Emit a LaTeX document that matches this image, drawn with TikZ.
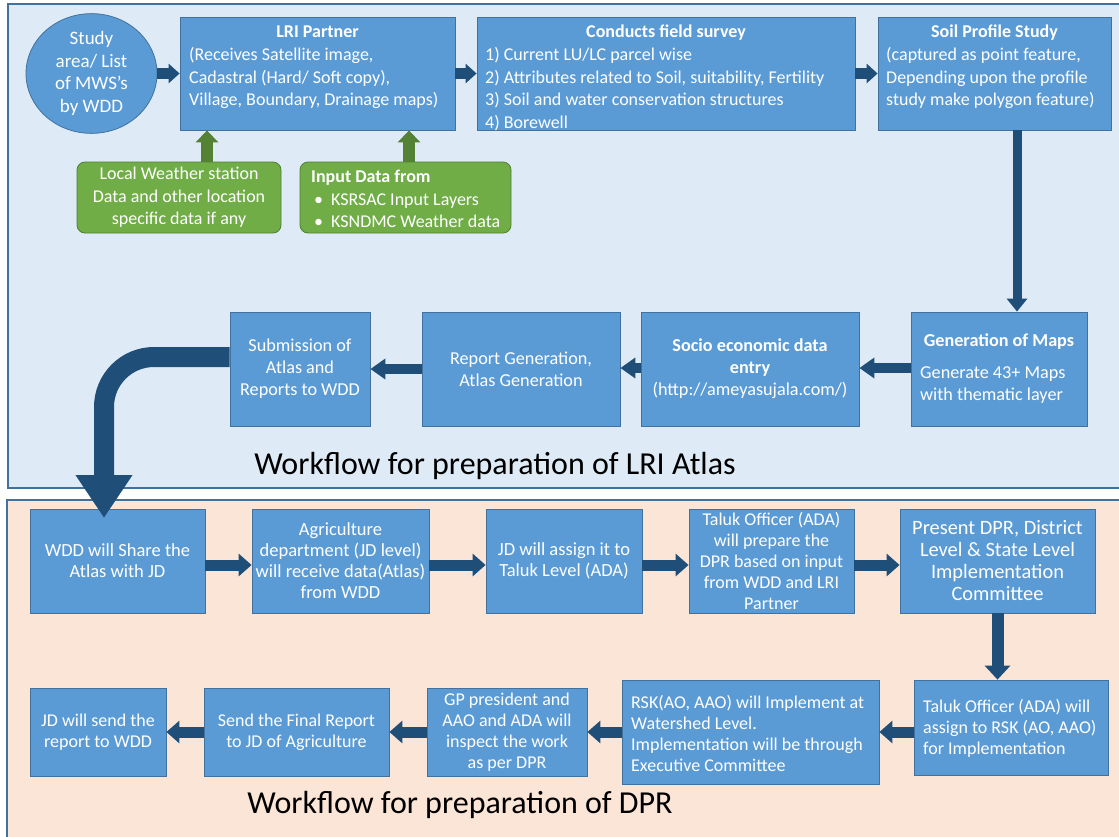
\documentclass[tikz,border=0pt]{standalone}
\usepackage{fontspec}
\setmainfont{Carlito}
\usetikzlibrary{arrows.meta,shapes.geometric}

\definecolor{panelA}{HTML}{DEEBF7}
\definecolor{panelB}{HTML}{FBE5D6}
\definecolor{panelLine}{HTML}{41719C}
\definecolor{boxFill}{HTML}{5B9BD5}
\definecolor{boxLine}{HTML}{41719C}
\definecolor{flow}{HTML}{1F4E79}
\definecolor{greenFill}{HTML}{70AD47}
\definecolor{greenLine}{HTML}{507E32}
\definecolor{greenArrow}{HTML}{548235}

\tikzset{
  box/.style={draw=boxLine, fill=boxFill, line width=0.8pt, text=white, inner sep=0pt, align=center},
  gbox/.style={draw=greenLine, fill=greenFill, line width=0.8pt, text=white, rounded corners=8pt, inner sep=0pt, align=center},
  txt/.style={text=white, inner sep=0pt},
  fE/.style={font=\fontsize{19}{22.8}\selectfont},
  fA/.style={font=\fontsize{18}{22.6}\selectfont},
  fAb/.style={font=\fontsize{18}{22.6}\selectfont\bfseries},
  fB/.style={font=\fontsize{18.2}{22}\selectfont},
  fBb/.style={font=\fontsize{18.2}{22}\selectfont\bfseries},
  fC/.style={font=\fontsize{18}{21}\selectfont},
  fCw/.style={font=\fontsize{18.5}{21}\selectfont},
  fD/.style={font=\fontsize{20.4}{22}\selectfont},
  heading/.style={text=black, inner sep=0pt, font=\fontsize{32}{38}\selectfont},
  flowTop/.style={draw=flow, line width=11pt, -{Triangle[width=19pt,length=11pt]}},
  flowMid/.style={draw=flow, line width=10pt, -{Triangle[width=20pt,length=15pt]}},
  flowLow/.style={draw=flow, line width=11pt, -{Triangle[width=22pt,length=13pt]}},
  flowDownA/.style={draw=flow, line width=9pt, -{Triangle[width=20pt,length=13pt]}},
  flowDownB/.style={draw=flow, line width=12pt, -{Triangle[width=25pt,length=14pt]}},
  greenUp/.style={draw=greenArrow, line width=12pt, -{Triangle[width=22pt,length=12pt]}},
  bigflow/.style={draw=flow, line width=20pt, rounded corners=50pt, -{Triangle[width=54pt,length=43pt]}},
}

\begin{document}
\begin{tikzpicture}[x=1pt,y=-1pt]
\useasboundingbox (0,0) rectangle (1119,836);
\fill[white] (0,0) rectangle (1119,836);

% panels
\fill[panelA] (8,4) rectangle (1130,488);
\draw[panelLine, line width=1.5pt] (1130,4) -- (8,4) -- (8,488) -- (1130,488);
\fill[panelB] (7,500) rectangle (1130,850);
\draw[panelLine, line width=1.5pt] (1130,500) -- (7,500) -- (7,850);

% ---------- LRI Atlas workflow ----------
\node[box, ellipse, fE, minimum width=131pt, minimum height=113pt] (study) at (91.5,73.5)
  {Study\\area/ List\\of MWS’s\\by WDD};

\node[box, minimum width=275pt, minimum height=113pt] (lri) at (317.5,73.5) {};
\node[txt, fAb] (lriT) at (317.5,32) {LRI Partner};
\node[txt, fA, align=left, anchor=west] (lriB) at (189,78)
  {(Receives Satellite image,\\Cadastral (Hard/ Soft copy),\\Village, Boundary, Drainage maps)};

\node[box, minimum width=378pt, minimum height=113pt] (field) at (666,73.5) {};
\node[txt, fAb] (fieldT) at (666,33) {Conducts field survey};
\node[txt, fA, align=left, anchor=west] (fieldB) at (485,89)
  {1) Current LU/LC parcel wise\\2) Attributes related to Soil, suitability, Fertility\\3) Soil and water conservation structures\\4) Borewell};

\node[box, minimum width=233pt, minimum height=113pt] (soil) at (994.5,73.5) {};
\node[txt, fAb] (soilT) at (994.5,33) {Soil Profile Study};
\node[txt, fA, align=left, anchor=west] (soilB) at (886,78)
  {(captured as point feature,\\Depending upon the profile\\study make polygon feature)};

\node[gbox, fA, minimum width=204pt, minimum height=71pt] (g1) at (179,197.5)
  {Local Weather station\\Data and other location\\specific data if any};

\node[gbox, minimum width=211pt, minimum height=71pt] (g2) at (405.5,197.5) {};
\node[txt, fA, align=left, anchor=west] (g2T) at (311,199)
  {\textbf{Input Data from}\\\hspace*{3pt}•\hspace{8pt}KSRSAC Input Layers\\\hspace*{3pt}•\hspace{8pt}KSNDMC Weather data};

\node[box, minimum width=176pt, minimum height=114pt] (gen) at (999,369) {};
\node[txt, fBb] (genT) at (999,342) {Generation of Maps};
\node[txt, fB, align=left, anchor=west] (genB) at (920,385.5)
  {Generate 43+ Maps\\with thematic layer};

\node[box, fB, minimum width=218pt, minimum height=114pt] (socio) at (750,369)
  {\textbf{Socio economic data}\\\textbf{entry}\\(http://ameyasujala.com/)};

\node[box, fB, minimum width=198pt, minimum height=114pt] (report) at (521,369)
  {Report Generation,\\Atlas Generation};

\node[box, fB, minimum width=140pt, minimum height=114pt] (sub) at (300,369)
  {Submission of\\Atlas and\\Reports to WDD};

\node[heading] (titleA) at (495,466) {Workflow for preparation of LRI Atlas};

% ---------- DPR workflow ----------
\node[box, fCw, minimum width=175pt, minimum height=104pt] (wdd) at (117.5,561)
  {WDD will Share the\\Atlas with JD};
\node[box, fCw, minimum width=177pt, minimum height=104pt] (agri) at (340.5,561)
  {Agriculture\\department (JD level)\\will receive data(Atlas)\\from WDD};
\node[box, fCw, minimum width=156pt, minimum height=104pt] (jd) at (564,561)
  {JD will assign it to\\Taluk Level (ADA)};
\node[box, fC, minimum width=165pt, minimum height=104pt] (tal1) at (771.5,561)
  {Taluk Officer (ADA)\\will prepare the\\DPR based on input\\from WDD and LRI\\Partner};
\node[box, fD, minimum width=195pt, minimum height=104pt] (pres) at (997.5,561)
  {Present DPR, District\\Level \& State Level\\Implementation\\Committee};

\node[box, minimum width=194pt, minimum height=95pt] (tal2) at (1011,727.5) {};
\node[txt, fC, align=left, anchor=west] (tal2B) at (923,728)
  {Taluk Officer (ADA) will\\assign to RSK (AO, AAO)\\for Implementation};

\node[box, minimum width=257pt, minimum height=104pt] (rsk) at (750.5,732) {};
\node[txt, fC, align=left, anchor=west] (rskB) at (631,733)
  {RSK(AO, AAO) will Implement at\\Watershed Level.\\Implementation will be through\\Executive Committee};

\node[box, fC, minimum width=160pt, minimum height=88pt] (gp) at (507,732)
  {GP president and\\AAO and ADA will\\inspect the work\\as per DPR};
\node[box, fC, minimum width=185pt, minimum height=88pt] (send) at (296.5,732)
  {Send the Final Report\\to JD of Agriculture};
\node[box, fC, minimum width=136pt, minimum height=88pt] (jdsend) at (98,732)
  {JD will send the\\report to WDD};

\node[heading] (titleB) at (460,805) {Workflow for preparation of DPR};

% ---------- connectors ----------
\draw[flowTop] (study.east) -- (lri.west);
\draw[flowTop] (lri.east) -- (field.west);
\draw[flowTop] (field.east) -- (soil.west);

\draw[greenUp] ([xshift=28pt]g1.north) -- ([xshift=28pt]g1.north |- lri.south);
\draw[greenUp] ([xshift=3.5pt]g2.north) -- ([xshift=3.5pt]g2.north |- lri.south);

\draw[flowDownA] ([xshift=22.5pt]soil.south) -- ([xshift=22.5pt]soil.south |- gen.north);

\draw[flowMid] ([yshift=1pt]gen.west) -- ([yshift=1pt]socio.east);
\draw[flowMid] ([yshift=1pt]socio.west) -- ([yshift=1pt]report.east);
\draw[flowMid] (report.west) -- (sub.east);

\draw[flowLow] ([yshift=-4pt]wdd.east) -- ([yshift=-4pt]agri.west);
\draw[flowLow] ([yshift=-4pt]agri.east) -- ([yshift=-4pt]jd.west);
\draw[flowLow] ([yshift=-4pt]jd.east) -- ([yshift=-4pt]tal1.west);
\draw[flowLow] ([yshift=-4pt]tal1.east) -- ([yshift=-4pt]pres.west);

\draw[flowDownB] (pres.south) -- (pres.south |- tal2.north);

\draw[flowLow] ([yshift=-4.5pt]tal2.west) -- ([yshift=-4.5pt]tal2.west -| rsk.east);
\draw[flowLow] (rsk.west) -- (rsk.west -| gp.east);
\draw[flowLow] (gp.west) -- (send.east);
\draw[flowLow] (send.west) -- (jdsend.east);

% hand-over from the atlas workflow to the DPR workflow
\coordinate (handover) at (104,518);
\draw[bigflow] ([yshift=12pt]sub.west) -| (handover);
\end{tikzpicture}
\end{document}
